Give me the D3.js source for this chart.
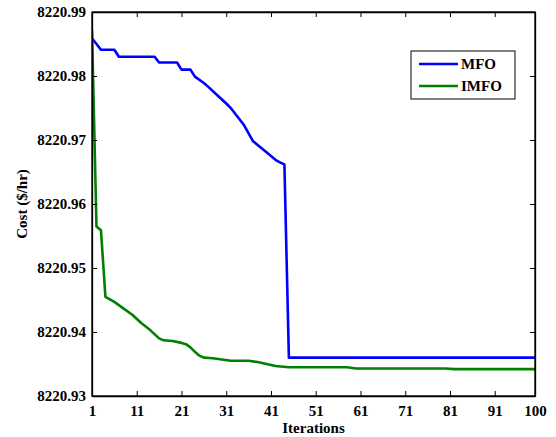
<!DOCTYPE html>
<html>
<head>
<meta charset="utf-8">
<script src="https://cdn.jsdelivr.net/npm/d3@7"></script>
<style>
  body { margin: 0; background: #fff; }
  svg text { font-family: "Liberation Serif", "Times New Roman", serif; font-weight: bold; }
</style>
</head>
<body>
<div id="chart"></div>
<script>
// values (breakpoints of each curve)
const mfoIter = [1, 2, 3, 6, 7, 15, 16, 20, 21, 23, 24, 26, 27, 29, 31, 32, 35, 37, 40, 42, 43, 44, 45, 100];
const mfoCost = [8220.9859, 8220.9850, 8220.9841, 8220.9841, 8220.9830, 8220.9830, 8220.9821, 8220.9821,
  8220.9810, 8220.9810, 8220.9799, 8220.9789, 8220.9783, 8220.9770, 8220.9757, 8220.9750, 8220.9723,
  8220.9698, 8220.9681, 8220.9669, 8220.9665, 8220.9662, 8220.9360, 8220.9360];

const imfoIter = [1, 2, 3, 4, 6, 8, 10, 12, 14, 16, 17, 19, 21, 22, 23, 24, 25, 26, 28, 32, 36, 38, 40, 42, 45, 58, 60, 80, 82, 100];
const imfoCost = [8220.9872, 8220.9565, 8220.9559, 8220.9455, 8220.9447, 8220.9437, 8220.9427, 8220.9414,
  8220.9403, 8220.9390, 8220.9387, 8220.9386, 8220.9383, 8220.9381, 8220.9376, 8220.9369, 8220.9363,
  8220.9360, 8220.9359, 8220.9355, 8220.9355, 8220.9353, 8220.9350, 8220.9347, 8220.9345, 8220.9345,
  8220.9343, 8220.9343, 8220.9342, 8220.9342];

const xTicks = [1, 11, 21, 31, 41, 51, 61, 71, 81, 91, 100];
const yTicks = [8220.93, 8220.94, 8220.95, 8220.96, 8220.97, 8220.98, 8220.99];

const series = [
  { name: 'MFO', color: '#0000ff', iter: mfoIter, cost: mfoCost },
  { name: 'IMFO', color: '#008000', iter: imfoIter, cost: imfoCost }
];

const width = 556, height = 437;
const margin = { top: 12, right: 21, bottom: 41, left: 92 };

const svg = d3.select('#chart').append('svg')
  .attr('width', width)
  .attr('height', height);

const x = d3.scaleLinear().domain([1, 100]).range([margin.left, width - margin.right]);
const y = d3.scaleLinear().domain([8220.93, 8220.99]).range([height - margin.bottom, margin.top]);

const innerW = width - margin.left - margin.right;
const innerH = height - margin.top - margin.bottom;

// clip for lines
svg.append('clipPath').attr('id', 'clip')
  .append('rect').attr('x', margin.left).attr('y', margin.top).attr('width', innerW).attr('height', innerH);

const line = d3.line()
  .x(d => x(d[0]))
  .y(d => y(d[1]));

svg.selectAll('path.series')
  .data(series)
  .enter().append('path')
  .attr('class', 'series')
  .attr('clip-path', 'url(#clip)')
  .attr('fill', 'none')
  .attr('stroke', d => d.color)
  .attr('stroke-width', 2.6)
  .attr('stroke-linejoin', 'round')
  .attr('d', d => line(d.iter.map((it, i) => [it, d.cost[i]])));

// axes, MATLAB style: inward ticks on all sides
const tickLen = 5;
svg.append('g')
  .attr('transform', 'translate(0,' + (height - margin.bottom) + ')')
  .call(d3.axisBottom(x).tickValues(xTicks).tickSizeInner(-tickLen).tickSizeOuter(0).tickPadding(9));
svg.append('g')
  .attr('transform', 'translate(' + margin.left + ',0)')
  .call(d3.axisLeft(y).tickValues(yTicks).tickFormat(d3.format('.2f')).tickSizeInner(-tickLen).tickSizeOuter(0).tickPadding(6));
svg.append('g')
  .attr('transform', 'translate(0,' + margin.top + ')')
  .call(d3.axisTop(x).tickValues(xTicks).tickSizeInner(-tickLen).tickSizeOuter(0).tickFormat(''));
svg.append('g')
  .attr('transform', 'translate(' + (width - margin.right) + ',0)')
  .call(d3.axisRight(y).tickValues(yTicks).tickSizeInner(-tickLen).tickSizeOuter(0).tickFormat(''));

svg.selectAll('.domain').attr('stroke', '#000').attr('stroke-width', 1.3);
svg.selectAll('.tick line').attr('stroke', '#000').attr('stroke-width', 1);
svg.selectAll('.tick text').attr('fill', '#000').style('font-size', '15px');

// box
svg.append('rect')
  .attr('x', margin.left).attr('y', margin.top)
  .attr('width', innerW).attr('height', innerH)
  .attr('fill', 'none').attr('stroke', '#000').attr('stroke-width', 1.3);

// axis labels
svg.append('text')
  .attr('x', margin.left + innerW / 2)
  .attr('y', 433)
  .attr('text-anchor', 'middle')
  .style('font-size', '15px')
  .text('Iterations');

svg.append('text')
  .attr('transform', 'translate(27,' + (margin.top + innerH / 2) + ') rotate(-90)')
  .attr('text-anchor', 'middle')
  .style('font-size', '15px')
  .text('Cost ($/hr)');

// legend
const legend = svg.append('g').attr('transform', 'translate(411,51)');
legend.append('rect')
  .attr('width', 104).attr('height', 48)
  .attr('fill', '#fff').attr('stroke', '#000').attr('stroke-width', 1);
const item = legend.selectAll('g.item')
  .data(series)
  .enter().append('g')
  .attr('class', 'item')
  .attr('transform', (d, i) => 'translate(0,' + (13 + i * 22) + ')');
item.append('line')
  .attr('x1', 8).attr('x2', 47)
  .attr('stroke', d => d.color).attr('stroke-width', 2.6);
item.append('text')
  .attr('x', 50).attr('dy', '0.35em')
  .style('font-size', '15px')
  .text(d => d.name);
</script>
</body>
</html>
